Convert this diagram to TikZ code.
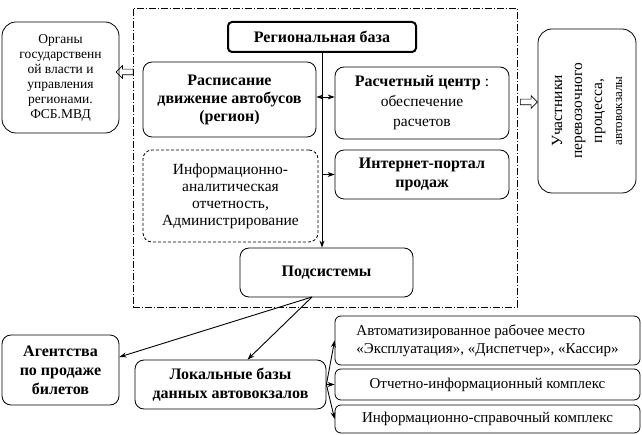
\documentclass[tikz,border=0pt]{standalone}
\usepackage{fontspec}
\setmainfont{Liberation Serif}
\usetikzlibrary{positioning,arrows.meta,shapes.arrows}

\begin{document}
\begin{tikzpicture}[x=1pt,y=-1pt,
    box/.style={draw,rounded corners=9pt,align=center,inner sep=2pt,line width=0.8pt,
      font=\fontsize{15.5}{17}\selectfont},
    bbox/.style={box,font=\fontsize{16}{19}\selectfont\bfseries},
    sbox/.style={box,rounded corners=6pt,font=\fontsize{15}{18}\selectfont},
    frame/.style={draw,line width=0.6pt,dash pattern=on 7pt off 2pt on 1pt off 2pt},
    link/.style={-{Stealth[length=7pt,width=5pt]},line width=0.9pt},
    hollow/.style={single arrow,draw,line width=0.6pt,inner sep=2.5pt,
      single arrow head extend=3.5pt,minimum height=17pt}]
  \useasboundingbox (0,0) rectangle (642,435);
  % dash-dot frame of the regional system
  \node[frame,minimum width=384pt,minimum height=299pt] (frame) at (325,157.5) {};
  \node[bbox,line width=2pt,rounded corners=4pt,minimum width=188pt,minimum height=30pt]
    (region) at (322,37) {Региональная база};
  \node[box,font=\fontsize{13.5}{15}\selectfont,rounded corners=14pt,
    minimum width=117pt,minimum height=111pt] (organy) at (60.5,77.5)
    {Органы\\государственн\\ой власти и\\управления\\регионами.\\ФСБ.МВД};
  \node[bbox,font=\fontsize{16}{18}\selectfont\bfseries,minimum width=173pt,
    minimum height=75pt] (rasp) at (229.5,99.5)
    {Расписание\\движение автобусов\\(регион)};
  \node[box,dash pattern=on 3pt off 2pt,minimum width=175pt,minimum height=92pt]
    (info) at (230.5,196)
    {Информационно-\\аналитическая\\отчетность,\\Администрирование};
  \node[box,font=\fontsize{15.5}{20}\selectfont,minimum width=174pt,minimum height=72pt]
    (rasch) at (422,103)
    {\textbf{\fontsize{16}{20}\selectfont Расчетный центр} :\\обеспечение\\расчетов};
  \node[bbox,minimum width=174pt,minimum height=49pt] (portal) at (422,174.5)
    {Интернет-портал\\продаж};
  \node[bbox,minimum width=173pt,minimum height=49pt] (podsys) at (326.5,272.5)
    {Подсистемы};
  \node[box,font=\fontsize{15.5}{20}\selectfont,rotate=90,rounded corners=14pt,
    minimum width=164pt,minimum height=98pt] (uch) at (587,111)
    {Участники\\перевозочного\\процесса,\\{\fontsize{13}{15}\selectfont автовокзалы}};
  % outside the frame
  \node[bbox,minimum width=117pt,minimum height=70pt] (agent) at (60.5,370)
    {Агентства\\по продаже\\билетов};
  \node[bbox,minimum width=191pt,minimum height=49pt] (local) at (230.5,384.5)
    {Локальные базы\\данных автовокзалов};
  \node[sbox,align=left,minimum width=305pt,minimum height=49pt] (arm) at (487.5,340.5)
    {Автоматизированное рабочее место\\«Эксплуатация», «Диспетчер», «Кассир»};
  \node[sbox,minimum width=305pt,minimum height=31pt] (otch) at (487.5,384.5)
    {Отчетно-информационный комплекс};
  \node[sbox,minimum width=305pt,minimum height=28pt] (sprav) at (487.5,419)
    {Информационно-справочный комплекс};

  \coordinate (fork) at (312,297);
  \draw[link] (region.south) -- (region.south |- podsys.north);
  \draw[link,{Stealth[length=7pt,width=5pt]}-{Stealth[length=7pt,width=5pt]}]
    (rasp.east |- 0,97) -- (rasch.west |- 0,97);
  \draw[link] (region.south |- portal.west) -- (portal.west);
  \draw[link] (fork) -- ([yshift=13pt]agent.east);
  \draw[link] (fork) -- ([xshift=17pt]local.north);
  \draw[link] (local.east) -- (arm.west);
  \draw[link] (local.east) -- (otch.west);
  \draw[link] (local.east) -- (sprav.west);
  \path (frame.west |- 0,72) -- (organy.east |- 0,72)
    node[hollow,midway,shape border rotate=180] (ha) {};
  \path (frame.east |- 0,102) -- (uch.north |- 0,102)
    node[hollow,midway] (hb) {};
\end{tikzpicture}
\end{document}
